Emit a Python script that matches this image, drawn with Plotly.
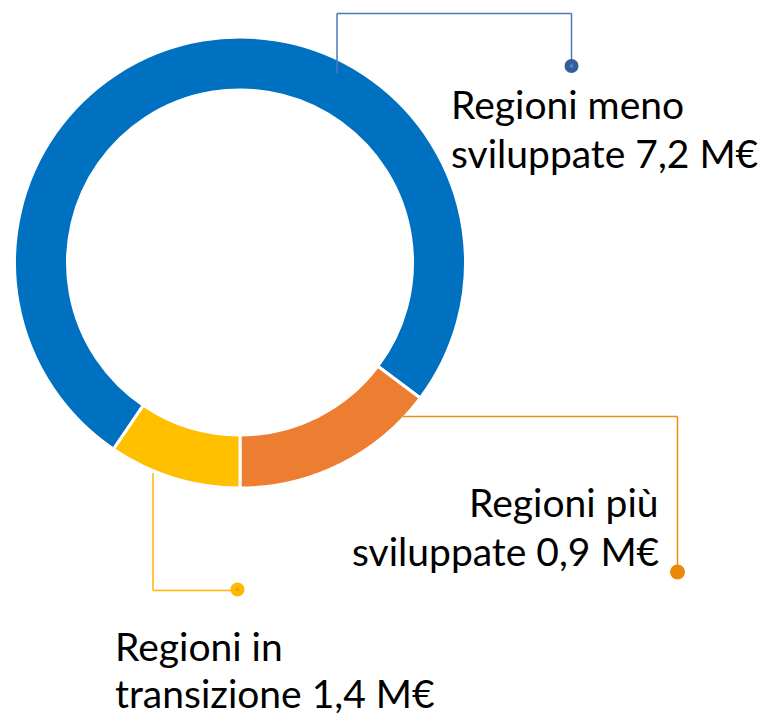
import plotly.graph_objects as go

# ---- data ----
categories = ["Regioni meno sviluppate", "Regioni più sviluppate", "Regioni in transizione"]
slice_values = [7.2, 1.4, 0.9]          # as drawn (slice sizes read from the ring)
slice_colors = ["#0070C0", "#ED7D31", "#FFC000"]
label_lines = [
    ["Regioni meno", "sviluppate 7,2 M€"],
    ["Regioni più", "sviluppate 0,9 M€"],
    ["Regioni in", "transizione 1,4 M€"],
]

W, H = 764, 716
FONT = "Lato"
FS = 39

def px(x):
    return x / W

def py(y):
    return 1 - y / H

total = sum(slice_values)
rotation = 180 + 360 * slice_values[2] / total

fig = go.Figure()
fig.add_trace(go.Pie(
    labels=categories,
    values=slice_values,
    sort=False,
    direction="clockwise",
    rotation=rotation,
    hole=0.765,
    marker=dict(colors=slice_colors, line=dict(color="white", width=3)),
    textinfo="none",
    hoverinfo="label+value",
    showlegend=False,
    domain=dict(x=[px(14.5), px(465.5)], y=[py(488), py(37)]),
))

shapes = []

def leader(points, color, width=1.5):
    for (x0, y0), (x1, y1) in zip(points[:-1], points[1:]):
        shapes.append(dict(type="line", xref="paper", yref="paper",
                           x0=px(x0), y0=py(y0), x1=px(x1), y1=py(y1),
                           line=dict(color=color, width=width)))

def dot(cx, cy, r, fill, inner=None):
    shapes.append(dict(type="circle", xref="paper", yref="paper",
                       x0=px(cx - r), x1=px(cx + r), y0=py(cy + r), y1=py(cy - r),
                       fillcolor=fill, line=dict(width=0)))
    if inner:
        shapes.append(dict(type="circle", xref="paper", yref="paper",
                           x0=px(cx - 2), x1=px(cx + 2), y0=py(cy + 2), y1=py(cy - 2),
                           fillcolor=inner, line=dict(width=0)))

# blue leader
leader([(337, 73), (337, 13.5), (571.5, 13.5), (571.5, 66)], "#4A7AB8")
dot(571.5, 66, 7, "#365D97", "#4F7FBF")
# orange leader
leader([(403, 416.5), (677.5, 416.5), (677.5, 572)], "#EE8F12")
dot(677.5, 572, 7.5, "#E8890C")
# yellow leader
leader([(153, 473), (153, 590.5), (237.5, 590.5)], "#FFB500")
dot(237.5, 589.5, 7, "#FFB800", "#F0A000")

# (x, anchor, top of first line, top of second line)
label_pos = [(450, "left", 80, 129), (660, "right", 478, 527), (114, "left", 621.5, 669)]
annotations = []
for lines, (x, anchor, top1, top2) in zip(label_lines, label_pos):
    for line, top in zip(lines, (top1, top2)):
        annotations.append(dict(
            text=line, x=px(x), y=py(top), xanchor=anchor, yanchor="top",
            xref="paper", yref="paper", showarrow=False, borderpad=0,
            font=dict(family=FONT, size=FS, color="#000000"),
        ))

fig.update_layout(
    width=W, height=H,
    margin=dict(l=0, r=0, t=0, b=0),
    paper_bgcolor="white", plot_bgcolor="white",
    shapes=shapes, annotations=annotations,
    font=dict(family=FONT),
)

fig.write_html("out.html", config={"displayModeBar": False},
               post_script="document.body.style.margin='0';")
